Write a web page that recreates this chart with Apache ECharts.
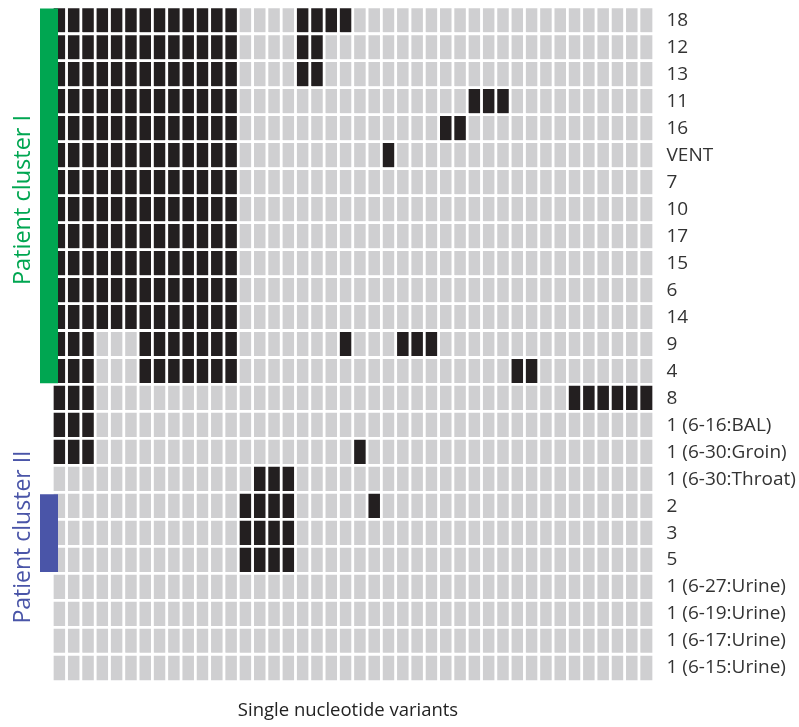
<!DOCTYPE html>
<html>
<head>
<meta charset="utf-8">
<script src="https://cdn.jsdelivr.net/npm/echarts@6/dist/echarts.min.js"></script>
<style>html,body{margin:0;padding:0;background:#fff}#c{width:799px;height:727px}</style>
</head>
<body>
<div id="c"></div>
<script>
// Rows (isolates), top to bottom
const rowLabels = ['18','12','13','11','16','VENT','7','10','17','15','6','14','9','4','8',
  '1 (6-16:BAL)','1 (6-30:Groin)','1 (6-30:Throat)','2','3','5',
  '1 (6-27:Urine)','1 (6-19:Urine)','1 (6-17:Urine)','1 (6-15:Urine)'];
// Variant columns 1..42
const variantColumns = ['1','2','3','4','5','6','7','8','9','10','11','12','13','14','15','16','17','18','19','20','21',
  '22','23','24','25','26','27','28','29','30','31','32','33','34','35','36','37','38','39','40','41','42'];
// Columns where each row carries the variant (black cells)
const variantHits = [
  [1,2,3,4,5,6,7,8,9,10,11,12,13,18,19,20,21],   // 18
  [1,2,3,4,5,6,7,8,9,10,11,12,13,18,19],         // 12
  [1,2,3,4,5,6,7,8,9,10,11,12,13,18,19],         // 13
  [1,2,3,4,5,6,7,8,9,10,11,12,13,30,31,32],      // 11
  [1,2,3,4,5,6,7,8,9,10,11,12,13,28,29],         // 16
  [1,2,3,4,5,6,7,8,9,10,11,12,13,24],            // VENT
  [1,2,3,4,5,6,7,8,9,10,11,12,13],               // 7
  [1,2,3,4,5,6,7,8,9,10,11,12,13],               // 10
  [1,2,3,4,5,6,7,8,9,10,11,12,13],               // 17
  [1,2,3,4,5,6,7,8,9,10,11,12,13],               // 15
  [1,2,3,4,5,6,7,8,9,10,11,12,13],               // 6
  [1,2,3,4,5,6,7,8,9,10,11,12,13],               // 14
  [1,2,3,7,8,9,10,11,12,13,21,25,26,27],         // 9
  [1,2,3,7,8,9,10,11,12,13,33,34],               // 4
  [1,2,3,37,38,39,40,41,42],                     // 8
  [1,2,3],                                       // BAL
  [1,2,3,22],                                    // Groin
  [15,16,17],                                    // Throat
  [14,15,16,17,23],                              // 2
  [14,15,16,17],                                 // 3
  [14,15,16,17],                                 // 5
  [], [], [], []                                 // Urine
];
const clusterI = ['18','4'];   // first and last row of cluster I
const clusterII = ['2','5'];   // first and last row of cluster II

const data = [];
rowLabels.forEach((r, ri) => {
  variantColumns.forEach((c, ci) => {
    data.push([ci, ri, variantHits[ri].includes(ci + 1) ? 1 : 0]);
  });
});

const chart = echarts.init(document.getElementById('c'));
const GREEN = '#00a651', BLUE = '#4a55a8';
chart.setOption({
  animation: false,
  grid: { left: 52.5, right: 145.5, top: 7, bottom: 45.5 },
  xAxis: { type: 'category', data: variantColumns, show: false },
  yAxis: {
    type: 'category', data: rowLabels, inverse: true, position: 'right',
    axisLine: { show: false }, axisTick: { show: false }, splitLine: { show: false },
    axisLabel: { color: '#333', fontSize: 19, fontFamily: 'Open Sans', margin: 13 }
  },
  visualMap: {
    show: false, type: 'piecewise', dimension: 2,
    pieces: [{ value: 0, color: '#cfcfd1' }, { value: 1, color: '#231f20' }]
  },
  series: [{
    type: 'heatmap', data: data,
    itemStyle: { borderColor: '#fff', borderWidth: 2.8 },
    emphasis: { disabled: true }
  }]
});

function band(a, b) {
  const y1 = chart.convertToPixel({ yAxisIndex: 0 }, a);
  const y2 = chart.convertToPixel({ yAxisIndex: 0 }, b);
  const h = 27;
  return [y1 - h / 2 + 1.5, y2 + h / 2 - 1.5];
}
const g1 = band(clusterI[0], clusterI[1]);
const g2 = band(clusterII[0], clusterII[1]);
chart.setOption({
  graphic: [
    { type: 'rect', z: 100, shape: { x: 40, y: g1[0], width: 18, height: g1[1] - g1[0] }, style: { fill: GREEN } },
    { type: 'rect', z: 100, shape: { x: 40, y: g2[0], width: 18, height: g2[1] - g2[0] }, style: { fill: BLUE } },
    { type: 'text', z: 100, x: 23, y: 200, rotation: Math.PI / 2,
      style: { text: 'Patient cluster I', fill: GREEN, font: '23.5px "Open Sans"', align: 'center', verticalAlign: 'middle' } },
    { type: 'text', z: 100, x: 23, y: 537, rotation: Math.PI / 2,
      style: { text: 'Patient cluster II', fill: BLUE, font: '23px "Open Sans"', align: 'center', verticalAlign: 'middle' } },
    { type: 'text', z: 100, x: 348, y: 711,
      style: { text: 'Single nucleotide variants', fill: '#222', font: '18.5px "Open Sans"', align: 'center', verticalAlign: 'middle' } }
  ]
});
</script>
</body>
</html>
